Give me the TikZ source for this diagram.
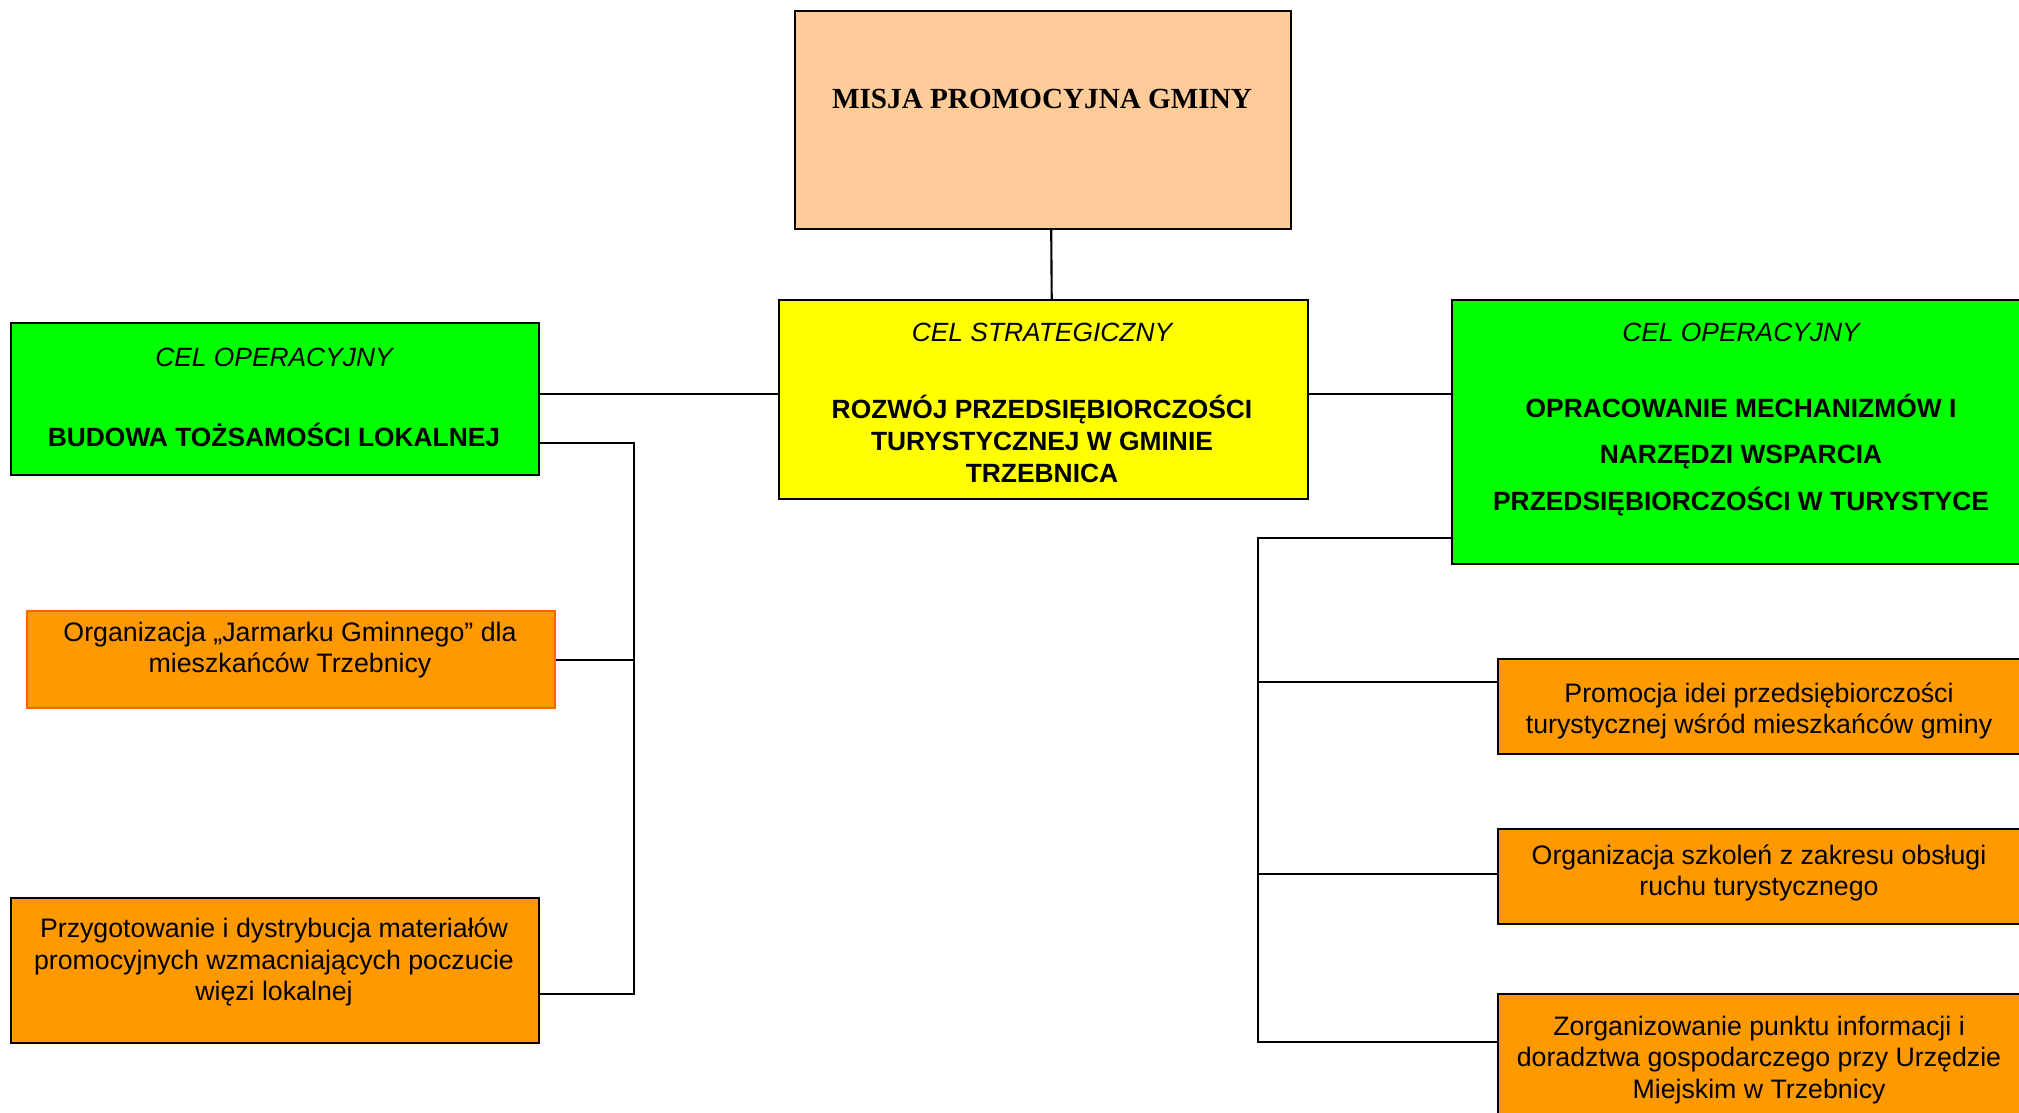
\documentclass[tikz,border=0pt]{standalone}
\usepackage{fontspec}
\setmainfont{Liberation Sans}
\newfontfamily\timesfont{Liberation Serif}
\usetikzlibrary{positioning}

\definecolor{misjafill}{HTML}{FFCC99}
\definecolor{celyellow}{HTML}{FFFF00}
\definecolor{celgreen}{HTML}{00FF00}
\definecolor{zadorange}{HTML}{FF9900}
\definecolor{zadborder}{HTML}{FF6600}

\tikzset{
  box/.style={draw, line width=0.6pt, anchor=north west, inner sep=0pt},
  txt/.style={font=\fontsize{7.6}{9}\selectfont, align=center, inner sep=0pt},
  conn/.style={line width=0.6pt},
}

\begin{document}
\begin{tikzpicture}[x=0.01cm,y=-0.01cm]
	\useasboundingbox (0,0) rectangle (2019,1113);
	% misja
	\node[box, fill=misjafill, minimum width=4.96cm, minimum height=2.18cm] (misja) at (794,10) {};
	\node[txt, font=\timesfont\bfseries\fontsize{8.3}{10}\selectfont] (misjatxt) at (1042,99) {MISJA PROMOCYJNA GMINY};
	% cel strategiczny
	\node[box, fill=celyellow, minimum width=5.29cm, minimum height=1.99cm] (strat) at (778,299) {};
	\node[txt, font=\itshape\fontsize{7.5}{9}\selectfont] (strattyp) at (1042,332) {CEL STRATEGICZNY};
	\node[txt, font=\bfseries\fontsize{7.5}{9}\selectfont] (strattxt) at (1042,439) {ROZWÓJ PRZEDSIĘBIORCZOŚCI\\TURYSTYCZNEJ W GMINIE\\TRZEBNICA};
	% cele operacyjne
	\node[box, fill=celgreen, minimum width=5.28cm, minimum height=1.52cm] (opleft) at (10,322) {};
	\node[txt, font=\itshape\fontsize{7.5}{9}\selectfont] (oplefttyp) at (274,357) {CEL OPERACYJNY};
	\node[txt, font=\bfseries\fontsize{7.5}{9}\selectfont] (oplefttxt) at (274,435) {BUDOWA TOŻSAMOŚCI LOKALNEJ};
	\node[box, fill=celgreen, minimum width=5.8cm, minimum height=2.64cm] (opright) at (1451,299) {};
	\node[txt, font=\itshape\fontsize{7.5}{9}\selectfont] (oprighttyp) at (1741,332) {CEL OPERACYJNY};
	\node[txt, font=\bfseries\fontsize{7.5}{13.2}\selectfont] (oprighttxt) at (1741,455) {OPRACOWANIE MECHANIZMÓW I\\NARZĘDZI WSPARCIA\\PRZEDSIĘBIORCZOŚCI W TURYSTYCE};
	% zadania lewe
	\node[box, fill=zadorange, draw=zadborder, minimum width=5.28cm, minimum height=0.97cm] (zadl1) at (26,610) {};
	\node[txt] (zadl1txt) at (290,650) {Organizacja „Jarmarku Gminnego” dla\\mieszkańców Trzebnicy};
	\node[box, fill=zadorange, minimum width=5.28cm, minimum height=1.45cm] (zadl2) at (10,897) {};
	\node[txt] (zadl2txt) at (274,962) {Przygotowanie i dystrybucja materiałów\\promocyjnych wzmacniających poczucie\\więzi lokalnej};
	% zadania prawe
	\node[box, fill=zadorange, minimum width=5.3cm, minimum height=0.95cm] (zadr1) at (1497,658) {};
	\node[txt] (zadr1txt) at (1759,711) {Promocja idei przedsiębiorczości\\turystycznej wśród mieszkańców gminy};
	\node[box, fill=zadorange, minimum width=5.3cm, minimum height=0.95cm] (zadr2) at (1497,828) {};
	\node[txt] (zadr2txt) at (1759,873) {Organizacja szkoleń z zakresu obsługi\\ruchu turystycznego};
	\node[box, fill=zadorange, minimum width=5.3cm, minimum height=1.4cm] (zadr3) at (1497,993) {};
	\node[txt] (zadr3txt) at (1759,1060) {Zorganizowanie punktu informacji i\\doradztwa gospodarczego przy Urzędzie\\Miejskim w Trzebnicy};
	% polaczenia
	\draw[conn] ([xshift=0.08cm]misja.south) -- ([xshift=0.08cm]strat.north);
	\coordinate (hmid) at (1042,394);
	\draw[conn] (hmid -| strat.west) -- (hmid -| opleft.east);
	\draw[conn] (hmid -| strat.east) -- (hmid -| opright.west);
	\coordinate (lspine) at (634,443);
	\coordinate (lend) at (634,994);
	\draw[conn] (lspine -| opleft.east) -- (lspine) -- (lend) -- (lend -| zadl2.east);
	\draw[conn] (lspine |- zadl1.east) -- (zadl1.east);
	\coordinate (rspine) at (1258,538);
	\coordinate (rb1) at (1258,682);
	\coordinate (rb2) at (1258,874);
	\coordinate (rend) at (1258,1042);
	\draw[conn] (rspine -| opright.west) -- (rspine) -- (rend) -- (rend -| zadr3.west);
	\draw[conn] (rb1) -- (rb1 -| zadr1.west);
	\draw[conn] (rb2) -- (rb2 -| zadr2.west);
\end{tikzpicture}
\end{document}
